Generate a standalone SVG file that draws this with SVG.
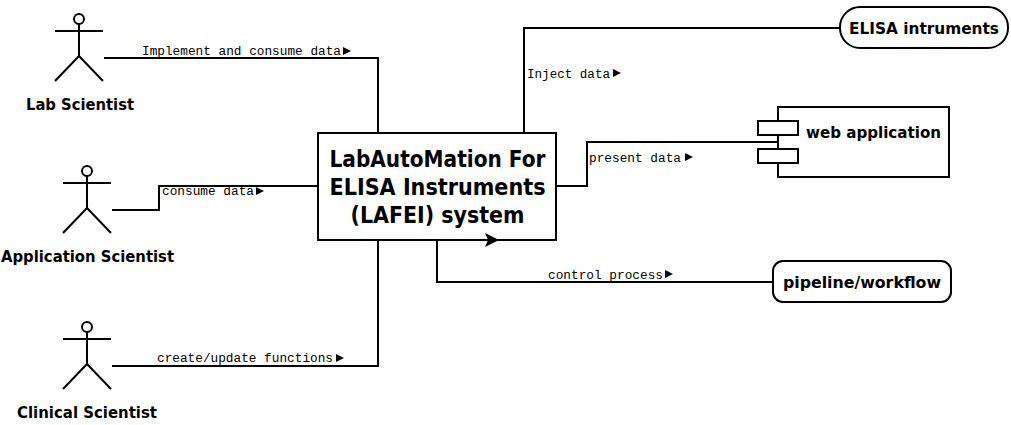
<svg xmlns="http://www.w3.org/2000/svg" width="1011" height="425" viewBox="0 0 1011 425">
<style>
.s{fill:none;stroke:#000;stroke-width:2}
.w{fill:#fff;stroke:#000;stroke-width:2}
.n{font-family:"DejaVu Sans",sans-serif;font-weight:700;font-size:16px;fill:#000}
.m{font-family:"DejaVu Sans",sans-serif;font-weight:700;font-size:23px;fill:#000;text-anchor:middle}
.l{font-family:"Liberation Mono",monospace;font-size:12px;fill:#000}
.a{fill:#000;stroke:none}
</style>
<defs>
<g id="actor"><circle class="s" cx="0" cy="0" r="5"/><path class="s" d="M-24 12H24M0 5V37M-24 62L0 37L24 62"/></g>
</defs>
<rect width="1011" height="425" fill="#fff"/>
<g id="connectors">
<path class="s" d="M104 58H378V133"/>
<path class="s" d="M112 210H159V186H318"/>
<path class="s" d="M112 366H378V240"/>
<path class="s" d="M524 133V28H840"/>
<path class="s" d="M556 186H587V142H778"/>
<path class="s" d="M437 240V282H773"/>
<polygon class="a" points="343,47 351,51 343,55"/>
<polygon class="a" points="256,187 264,191 256,195"/>
<polygon class="a" points="336,354 344,358 336,362"/>
<polygon class="a" points="613,69 621,73 613,77"/>
<polygon class="a" points="685,153 693,157 685,161"/>
<polygon class="a" points="665,270 673,274 665,278"/>
<text class="l" x="142" y="55" textLength="199" lengthAdjust="spacingAndGlyphs">Implement and consume data</text>
<text class="l" x="162" y="195" textLength="92" lengthAdjust="spacingAndGlyphs">consume data</text>
<text class="l" x="157" y="362" textLength="176" lengthAdjust="spacingAndGlyphs">create/update functions</text>
<text class="l" x="527" y="78" textLength="83" lengthAdjust="spacingAndGlyphs">Inject data</text>
<text class="l" x="589" y="162" textLength="92" lengthAdjust="spacingAndGlyphs">present data</text>
<text class="l" x="548" y="279" textLength="115" lengthAdjust="spacingAndGlyphs">control process</text>
</g>
<g id="lab-scientist"><use href="#actor" x="79" y="19"/><text class="n" x="26" y="110" textLength="108" lengthAdjust="spacingAndGlyphs">Lab Scientist</text></g>
<g id="application-scientist"><use href="#actor" x="87" y="171"/><text class="n" x="1" y="262" textLength="173" lengthAdjust="spacingAndGlyphs">Application Scientist</text></g>
<g id="clinical-scientist"><use href="#actor" x="87" y="327"/><text class="n" x="17" y="418" textLength="140" lengthAdjust="spacingAndGlyphs">Clinical Scientist</text></g>
<g id="lafei-system">
<rect class="w" x="318" y="133" width="238" height="107"/>
<polygon class="a" points="485,233 499,240 485,247 488,240"/>
<text class="m" x="437.500" y="167" textLength="216" lengthAdjust="spacingAndGlyphs">LabAutoMation For</text>
<text class="m" x="437.500" y="195" textLength="216" lengthAdjust="spacingAndGlyphs">ELISA Instruments</text>
<text class="m" x="437.500" y="223" textLength="174" lengthAdjust="spacingAndGlyphs">(LAFEI) system</text>
</g>
<g id="elisa-instruments"><rect class="w" x="840" y="7" width="168" height="41" rx="20" ry="20"/><text class="n" x="849" y="34" textLength="150" lengthAdjust="spacingAndGlyphs">ELISA intruments</text></g>
<g id="web-application">
<rect class="w" x="778" y="107" width="171" height="70"/>
<rect class="w" x="758" y="121" width="40" height="14"/>
<rect class="w" x="758" y="149" width="40" height="14"/>
<text class="n" x="806" y="138" textLength="135" lengthAdjust="spacingAndGlyphs">web application</text>
</g>
<g id="pipeline-workflow"><rect class="w" x="773" y="261" width="178" height="41" rx="10" ry="10"/><text class="n" x="783" y="288" textLength="158" lengthAdjust="spacingAndGlyphs">pipeline/workflow</text></g>
</svg>
